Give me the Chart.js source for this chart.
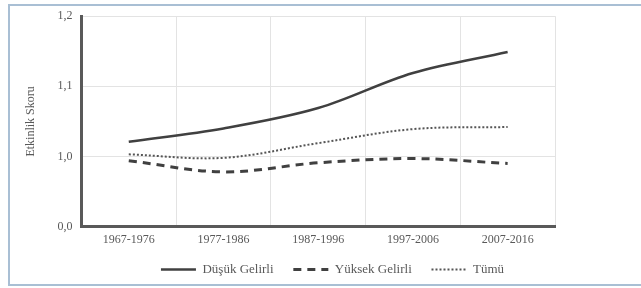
<!DOCTYPE html>
<html>
<head>
<meta charset="utf-8">
<script src="https://cdn.jsdelivr.net/npm/chart.js@4.4.0/dist/chart.umd.min.js"></script>
<style>
  html, body { margin: 0; padding: 0; background: #fff; }
  #wrap {
    position: absolute; left: 8px; top: 4px; width: 640px; height: 282px;
    border-top: 2px solid #a9bfd4; border-left: 2px solid #a9bfd4; border-bottom: 2px solid #a9bfd4;
    box-sizing: border-box;
  }
  canvas { position: absolute; left: 0; top: 0; }
</style>
</head>
<body>
<div id="wrap"></div>
<canvas id="chart" width="641" height="288"></canvas>
<script>
// Periods on the x axis
const periods = ['1967-1976', '1977-1986', '1987-1996', '1997-2006', '2007-2016'];

// Efficiency scores per group
const dusukGelirli = [1.021, 1.040, 1.069, 1.119, 1.149];
const yuksekGelirli = [0.994, 0.978, 0.991, 0.997, 0.990];
const tumu = [1.003, 0.998, 1.019, 1.039, 1.042];

// Axis break: the lowest tick is shown as 0,0
const yTicks = [0.9, 1.0, 1.1, 1.2];
const yTickLabels = ['0,0', '1,0', '1,1', '1,2'];

const textColor = '#595959';
const font = { family: 'Liberation Serif', size: 12 };

const ctx = document.getElementById('chart').getContext('2d');
new Chart(ctx, {
  type: 'line',
  data: {
    labels: periods,
    datasets: [
      {
        label: 'Düşük Gelirli',
        data: dusukGelirli,
        borderColor: '#404040',
        borderWidth: 2.5,
        pointRadius: 0,
        tension: 0.35,
        pointStyle: 'line',
      },
      {
        label: 'Yüksek Gelirli',
        data: yuksekGelirli,
        borderColor: '#404040',
        borderWidth: 3,
        borderDash: [8, 6],
        pointRadius: 0,
        tension: 0.35,
        pointStyle: 'line',
      },
      {
        label: 'Tümü',
        data: tumu,
        borderColor: '#555555',
        borderWidth: 2,
        borderDash: [2, 2],
        pointRadius: 0,
        tension: 0.35,
        pointStyle: 'line',
      },
    ],
  },
  options: {
    responsive: false,
    animation: false,
    layout: { padding: { left: 24, right: 0, top: 9, bottom: 2 } },
    plugins: {
      tooltip: { enabled: false },
      legend: {
        position: 'bottom',
        labels: {
          usePointStyle: true,
          pointStyleWidth: 35,
          color: textColor,
          font: { family: 'Liberation Serif', size: 13 },
          padding: 10,
          generateLabels: (chart) => {
            const items = Chart.defaults.plugins.legend.labels.generateLabels(chart);
            items.forEach((it, i) => {
              const ds = chart.data.datasets[i];
              it.lineDash = ds.borderDash || [];
              it.lineWidth = ds.borderWidth;
              it.strokeStyle = ds.borderColor;
              // a little extra room before the next entry
              if (i < items.length - 1) it.text = it.text + '   ';
            });
            return items;
          },
        },
      },
    },
    scales: {
      x: {
        offset: true,
        grid: { color: '#e3e3e3', offset: true, drawTicks: false },
        border: { color: '#595959', width: 3 },
        ticks: { color: textColor, font: font, padding: 6 },
      },
      y: {
        min: 0.9,
        max: 1.2,
        afterBuildTicks: (axis) => {
          axis.ticks = yTicks.map((v) => ({ value: v }));
        },
        grid: { color: '#e3e3e3', drawTicks: false },
        border: { color: '#595959', width: 3 },
        ticks: {
          color: textColor,
          font: font,
          padding: 9,
          callback: (value) => {
            const i = yTicks.findIndex((t) => Math.abs(t - value) < 1e-6);
            return i >= 0 ? yTickLabels[i] : '';
          },
        },
        title: {
          display: true,
          text: 'Etkinlik Skoru',
          color: textColor,
          font: font,
          padding: { top: 0, bottom: 10 },
        },
      },
      // empty right-hand strip so the plot stops short of the edge
      yPad: {
        position: 'right',
        display: true,
        grid: { drawOnChartArea: false, drawTicks: false },
        border: { display: false },
        ticks: { display: false },
        afterFit: (axis) => {
          axis.width = 86;
        },
      },
    },
  },
});
</script>
</body>
</html>
